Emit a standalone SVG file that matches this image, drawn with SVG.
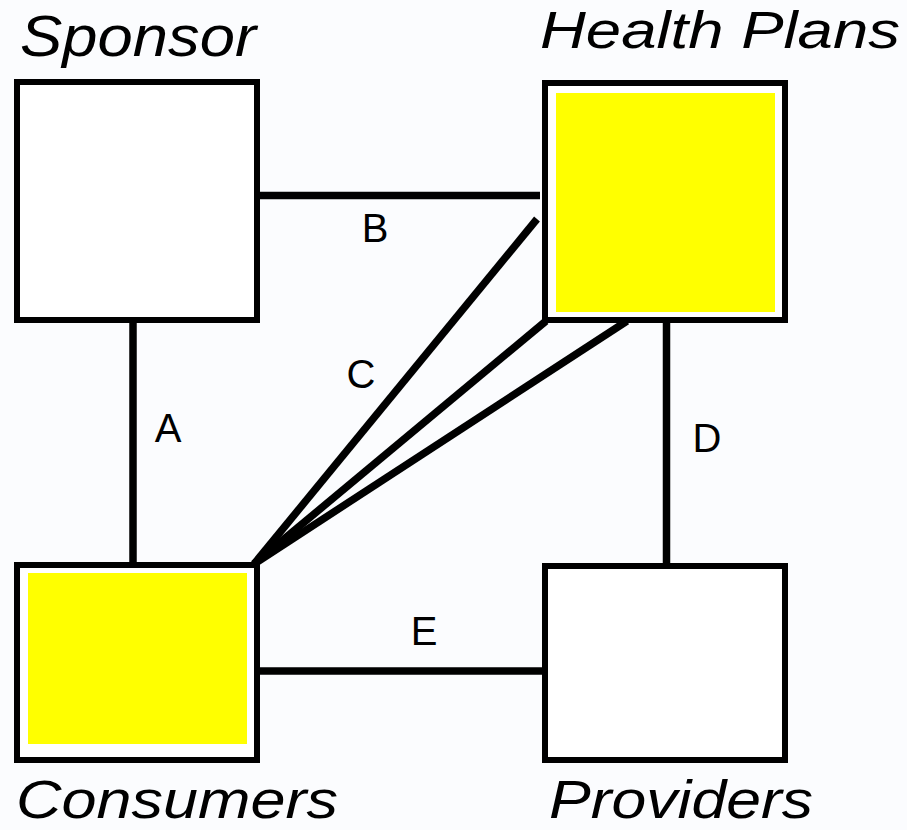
<svg xmlns="http://www.w3.org/2000/svg" width="907" height="830" viewBox="0 0 907 830">
<style>
.box{fill:#ffffff;stroke:#000;stroke-width:6}
.hl{fill:#ffff00;stroke:none}
.conn line{stroke:#000;stroke-width:7.5;stroke-linecap:butt}
.title{font-family:"Liberation Sans",Arial,sans-serif;font-style:italic;fill:#000}
.lbl{font-family:"Liberation Sans",Arial,sans-serif;font-size:40px;fill:#000;text-anchor:middle}
</style>
<rect width="907" height="830" fill="#fbfcfe"/>
<g id="connectors" class="conn">
<line x1="133" y1="323" x2="133" y2="563"/>
<line x1="260" y1="195.5" x2="540" y2="195.5"/>
<line x1="537" y1="219" x2="254" y2="564"/>
<line x1="546" y1="321" x2="254" y2="564"/>
<line x1="627" y1="321" x2="254" y2="564"/>
<line x1="666.5" y1="323" x2="666.5" y2="564"/>
<line x1="260" y1="671" x2="543" y2="671"/>
</g>
<g id="labels">
<text class="lbl" x="168" y="442">A</text>
<text class="lbl" x="375" y="242">B</text>
<text class="lbl" x="361" y="388">C</text>
<text class="lbl" x="707" y="452">D</text>
<text class="lbl" x="424" y="645">E</text>
</g>
<g id="sponsor">
<rect class="box" x="17" y="82" width="240" height="238"/>
<text class="title" x="20" y="56" font-size="57" textLength="236" lengthAdjust="spacingAndGlyphs">Sponsor</text>
</g>
<g id="health-plans">
<rect class="box" x="545" y="83" width="240" height="237"/>
<rect class="hl" x="556" y="93" width="219" height="219"/>
<text class="title" x="540" y="48" font-size="52" textLength="360" lengthAdjust="spacingAndGlyphs">Health Plans</text>
</g>
<g id="consumers">
<rect class="box" x="17" y="565" width="240" height="195"/>
<rect class="hl" x="28" y="573" width="219" height="171"/>
<text class="title" x="16" y="818" font-size="54" textLength="322" lengthAdjust="spacingAndGlyphs">Consumers</text>
</g>
<g id="providers">
<rect class="box" x="545" y="566" width="240" height="194"/>
<text class="title" x="549" y="818" font-size="54" textLength="264" lengthAdjust="spacingAndGlyphs">Providers</text>
</g>
</svg>
